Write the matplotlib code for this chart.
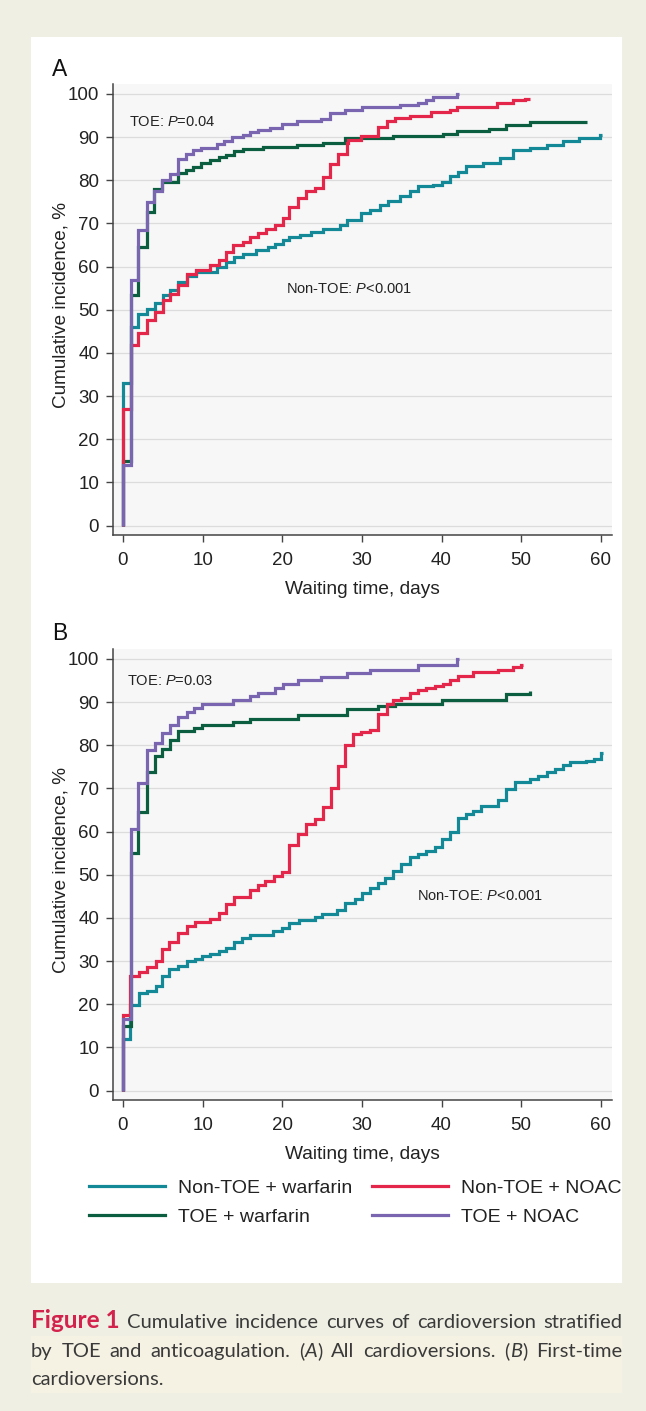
import matplotlib
matplotlib.use('Agg')
import matplotlib.pyplot as plt
from matplotlib.lines import Line2D
import matplotlib.patches as mpatches

plt.rcParams['font.family'] = ['Liberation Sans', 'DejaVu Sans']
plt.rcParams['mathtext.fontset'] = 'custom'
plt.rcParams['mathtext.rm'] = 'Liberation Sans'
plt.rcParams['mathtext.it'] = 'Liberation Sans:italic'

# ---------------- data (days, cumulative incidence %) ----------------
series_names = ['Non-TOE + warfarin', 'Non-TOE + NOAC', 'TOE + warfarin', 'TOE + NOAC']
series_colors = ['#138896', '#e3264a', '#0b5f40', '#7a66b0']

# Panel A: all cardioversions
a_nw_t = [0, 0, 1.0, 1.9, 3.0, 4.0, 5.0, 5.9, 6.9, 8.0, 9.2, 11.8, 13.0, 14.0, 15.1, 16.7, 18.2, 19.1,
          20.1, 20.9, 22.2, 23.6, 25.1, 27.2, 28.1, 29.9, 31.0, 32.3, 33.3, 34.8, 36.0, 37.1, 38.9, 40.0,
          41.0, 42.1, 43.1, 45.2, 47.3, 49.0, 51.1, 53.2, 55.2, 57.3, 59.9, 60.2]
a_nw_v = [0, 33, 46, 49, 50.1, 51.5, 53.3, 54.6, 56.5, 57.8, 58.8, 59.9, 61.1, 62.2, 63.0, 63.8, 64.6, 65.3,
          66.1, 66.9, 67.4, 68.0, 68.6, 69.7, 70.8, 72.4, 73.2, 74.3, 75.1, 76.3, 77.6, 78.6, 79.0, 79.7,
          80.9, 82.0, 83.2, 84.0, 85.1, 87.1, 87.5, 88.2, 89.2, 89.8, 90.5, 90.5]

a_nn_t = [0, 0, 1.0, 1.9, 3.0, 4.0, 5.0, 5.9, 6.9, 8.0, 9.2, 10.9, 12.0, 13.0, 13.8, 15.1, 15.9, 17.0,
          18.0, 19.1, 20.1, 20.9, 22.0, 23.0, 24.1, 25.1, 26.0, 27.0, 28.1, 28.3, 29.9, 32.0, 33.1, 34.1,
          36.0, 38.7, 41.0, 41.9, 46.9, 49.0, 50.5, 51.1]
a_nn_v = [0, 27, 41.8, 44.7, 47.6, 49.4, 52.3, 53.7, 55.8, 58.2, 59.1, 60.3, 61.6, 63.4, 65.1, 65.6, 66.9, 67.8,
          68.8, 69.6, 71.2, 73.9, 75.8, 77.4, 78.1, 80.8, 83.7, 86.1, 88.6, 89.4, 90.3, 92.4, 93.7, 94.4,
          95.0, 95.7, 96.3, 97.0, 97.8, 98.5, 98.9, 98.9]

a_tw_t = [0, 0, 1.0, 1.9, 3.0, 3.9, 4.9, 6.9, 7.9, 8.8, 9.8, 10.9, 12.0, 13.0, 14.0, 15.1, 17.6, 20.1,
          21.8, 25.1, 27.9, 33.9, 40.2, 41.9, 46.0, 48.1, 51.1, 58.2]
a_tw_v = [0, 15, 53.3, 64.6, 72.6, 77.9, 79.7, 81.6, 82.4, 83.0, 84.0, 84.7, 85.3, 85.9, 86.7, 87.2, 87.6, 87.8,
          88.2, 88.6, 89.8, 90.3, 90.8, 91.5, 91.9, 92.7, 93.5, 93.5]

a_tn_t = [0, 0, 1.0, 1.9, 3.0, 3.9, 4.9, 5.9, 6.9, 7.9, 8.8, 9.8, 11.8, 12.7, 13.7, 15.1, 16.0, 17.0,
          18.5, 20.0, 21.8, 24.9, 26.0, 27.9, 30.0, 34.8, 37.1, 38.1, 38.9, 41.9, 42.2]
a_tn_v = [0, 14, 57, 68.5, 75, 77.5, 80, 81.5, 85, 86, 87, 87.5, 88.3, 89.2, 90.0, 90.5, 91.2, 91.7,
          92.2, 93.0, 93.8, 94.2, 95.6, 96.3, 96.9, 97.4, 98.0, 98.5, 99.3, 100, 100]

# Panel B: first-time cardioversions
b_nw_t = [0, 0, 0.9, 2.0, 3.0, 4.2, 4.9, 5.8, 6.9, 8.0, 9.0, 9.9, 10.9, 12.1, 13.0, 14.0, 14.9, 15.9,
          18.8, 20.0, 20.9, 22.1, 24.1, 25.0, 26.9, 27.9, 29.1, 30.0, 31.0, 32.0, 32.9, 33.9, 34.9, 36.0,
          37.1, 38.1, 39.2, 40.0, 41.0, 42.1, 43.1, 43.9, 45.0, 47.1, 48.1, 49.2, 51.1, 52.1, 53.2, 54.2,
          55.2, 56.1, 58.1, 59.2, 60.0, 60.3]
b_nw_v = [0, 12, 19.7, 22.5, 23.0, 24.2, 26.5, 28.2, 28.8, 30.0, 30.5, 31.1, 31.7, 32.3, 33.1, 34.4, 35.4, 36.1,
          36.9, 37.7, 38.8, 39.4, 40.2, 40.8, 41.9, 43.5, 44.4, 45.8, 46.9, 48.1, 49.3, 50.8, 52.5, 54.1,
          54.8, 55.4, 56.4, 58.2, 60.0, 63.1, 64.1, 64.8, 66.0, 67.4, 69.8, 71.4, 72.2, 72.9, 73.8, 74.6,
          75.4, 76.2, 76.4, 76.9, 78.3, 78.3]

b_nn_t = [0, 0, 0.9, 2.0, 3.0, 4.2, 4.9, 5.8, 6.9, 8.0, 9.0, 10.9, 12.1, 13.0, 14.0, 15.9, 16.9, 17.8,
          19.0, 20.0, 20.9, 22.0, 23.0, 24.1, 25.1, 26.1, 27.0, 27.9, 28.9, 29.9, 31.0, 32.0, 33.1, 33.9,
          34.9, 36.0, 37.1, 38.1, 39.2, 40.2, 41.0, 42.1, 44.0, 47.1, 49.0, 50.0, 50.2]
b_nn_v = [0, 17.5, 26.5, 27.5, 28.6, 30.0, 32.8, 34.4, 36.4, 38.2, 39.0, 39.8, 41.2, 43.1, 44.9, 46.4, 47.7, 48.5,
          49.7, 50.6, 56.8, 59.4, 61.8, 62.9, 65.8, 70.2, 75.1, 80.0, 82.5, 83.1, 83.5, 87.2, 89.5, 90.5,
          91.0, 92.2, 92.7, 93.2, 93.7, 94.3, 95.1, 96.0, 97.0, 97.5, 98.1, 98.7, 98.7]

b_tw_t = [0, 0, 1.0, 1.9, 3.0, 4.0, 4.9, 5.9, 6.9, 8.9, 9.9, 13.8, 15.9, 22.0, 28.1, 32.0, 34.1, 40.0,
          48.1, 51.1, 51.15]
b_tw_v = [0, 15, 55.0, 64.6, 73.8, 77.6, 79.2, 81.2, 83.2, 84.1, 84.6, 85.4, 86.1, 86.9, 88.3, 89.1, 89.6, 90.4,
          91.8, 92.5, 92.5]

b_tn_t = [0, 0, 1.0, 1.9, 3.0, 4.0, 4.9, 5.9, 6.9, 8.0, 8.9, 9.9, 13.8, 15.9, 17.0, 19.1, 20.1, 22.0,
          24.9, 28.1, 31.0, 37.1, 41.9, 42.2]
b_tn_v = [0, 16.5, 60.6, 71.3, 78.8, 80.6, 82.8, 84.8, 86.5, 87.7, 88.6, 89.5, 90.4, 91.4, 92.2, 93.2, 94.2, 95.2,
          95.8, 96.8, 97.5, 98.7, 100, 100]

x_ticks = [0, 10, 20, 30, 40, 50, 60]
y_ticks = [0, 10, 20, 30, 40, 50, 60, 70, 80, 90, 100]

panels = [
    dict(label='A', series=[(a_nw_t, a_nw_v), (a_tw_t, a_tw_v), (a_nn_t, a_nn_v), (a_tn_t, a_tn_v)],
         toe_text='TOE: $P$=0.04', toe_xy=(0.75, 93.4),
         non_text='Non-TOE: $P$<0.001', non_xy=(20.5, 54.9)),
    dict(label='B', series=[(b_nw_t, b_nw_v), (b_tw_t, b_tw_v), (b_nn_t, b_nn_v), (b_tn_t, b_tn_v)],
         toe_text='TOE: $P$=0.03', toe_xy=(0.45, 95.0),
         non_text='Non-TOE: $P$<0.001', non_xy=(36.9, 45.0)),
]
draw_colors = [series_colors[0], series_colors[2], series_colors[1], series_colors[3]]

# ---------------- figure ----------------
W, H = 646, 1411
fig = plt.figure(figsize=(W / 100, H / 100), dpi=100)
fig.patch.set_facecolor('#efefe4')

def fx(px):
    return px / W

def fy(py):
    return 1 - py / H

# white panel
fig.patches.append(mpatches.Rectangle((fx(31), fy(1283)), fx(622) - fx(31), fy(37) - fy(1283),
                                      transform=fig.transFigure, facecolor='white', edgecolor='none', zorder=-5))
# caption highlight band
fig.patches.append(mpatches.Rectangle((fx(31), fy(1393)), fx(622) - fx(31), fy(1336) - fy(1393),
                                      transform=fig.transFigure, facecolor='#f5f2e3', edgecolor='none', zorder=-5))

axes_tops = [84, 649]
for p, top in zip(panels, axes_tops):
    bottom = top + 451
    ax = fig.add_axes([fx(113), fy(bottom), fx(612) - fx(113), (bottom - top) / H])
    ax.set_zorder(2)
    ax.set_facecolor('#f7f7f7')
    for (t, v), c in zip(p['series'], draw_colors):
        ax.step(t, v, where='post', color=c, lw=2.3, solid_joinstyle='miter', solid_capstyle='butt', zorder=3)
    ax.set_xlim(-1.25, 61.4)
    ax.set_ylim(-2.2, 102.3)
    ax.set_xticks(x_ticks)
    ax.set_yticks(y_ticks)
    ax.tick_params(axis='both', labelsize=13.5, length=5, width=1.0, color='#444444', labelcolor='#222222')
    ax.tick_params(axis='x', pad=7)
    ax.tick_params(axis='y', pad=5)
    ax.grid(axis='y', color='#dcdcdc', lw=0.9, zorder=1)
    ax.set_axisbelow(True)
    for s in ['top', 'right']:
        ax.spines[s].set_visible(False)
    for s in ['left', 'bottom']:
        ax.spines[s].set_color('#444444')
        ax.spines[s].set_linewidth(1.1)
    ax.set_xlabel('Waiting time, days', fontsize=13.8, color='#222222', labelpad=9)
    ax.set_ylabel('Cumulative incidence, %', fontsize=13.6, color='#222222')
    ax.yaxis.set_label_coords(-0.087, 0.51)
    ax.text(*p['toe_xy'], p['toe_text'], fontsize=10.5, color='#222222', va='center', ha='left')
    ax.text(*p['non_xy'], p['non_text'], fontsize=10.5, color='#222222', va='center', ha='left')
    fig.text(fx(52), fy(top - 15), p['label'], fontsize=16.5, color='#111111', va='center', ha='left')

# legend (column-major order so rows read: Non-TOE pair, TOE pair)
leg_order = [0, 2, 1, 3]
handles = [Line2D([], [], color=series_colors[i], lw=2.3) for i in leg_order]
labels = [series_names[i] for i in leg_order]
fig.legend(handles, labels, loc='upper left', bbox_to_anchor=(fx(89), fy(1179)), ncol=2,
           frameon=False, fontsize=14, handlelength=3.9, handletextpad=0.67, columnspacing=1.03,
           labelspacing=0.6, borderpad=0, borderaxespad=0, labelcolor='#222222')

# caption (justified lines)
renderer = fig.canvas.get_renderer()
cap_font = ['Lato', 'DejaVu Sans']
body = dict(fontsize=14.5, color='#3a3a3a', family=cap_font)
red = dict(fontsize=17.5, color='#d3224b', family=cap_font, weight='bold')
ital = dict(fontsize=14.5, color='#3a3a3a', family=cap_font, style='italic')

caption_lines = [
    ([[('Figure 1', red)]] +
     [[(w, body)] for w in 'Cumulative incidence curves of cardioversion stratified'.split()], True, 1328),
    ([[(w, body)] for w in 'by TOE and anticoagulation.'.split()] +
     [[('(', body), ('A', ital), (')', body)], [('All', body)], [('cardioversions.', body)],
      [('(', body), ('B', ital), (')', body)], [('First-time', body)]], True, 1357),
    ([[('cardioversions.', body)]], False, 1385),
]

x_left, x_right = 31, 622
for words, justify, ybase in caption_lines:
    placed = []
    widths = []
    for word in words:
        parts = []
        tot = 0
        for txt, props in word:
            t = fig.text(0, fy(ybase), txt, va='baseline', ha='left', **props)
            w = t.get_window_extent(renderer).width
            parts.append((t, w))
            tot += w
        placed.append(parts)
        widths.append(tot)
    if justify and len(words) > 1:
        gap = (x_right - x_left - sum(widths)) / (len(words) - 1)
    else:
        gap = 4
    x = x_left
    for parts, w in zip(placed, widths):
        for t, pw in parts:
            t.set_x(fx(x))
            x += pw
        x += gap

fig.savefig('out.png', dpi=100, facecolor=fig.get_facecolor())
